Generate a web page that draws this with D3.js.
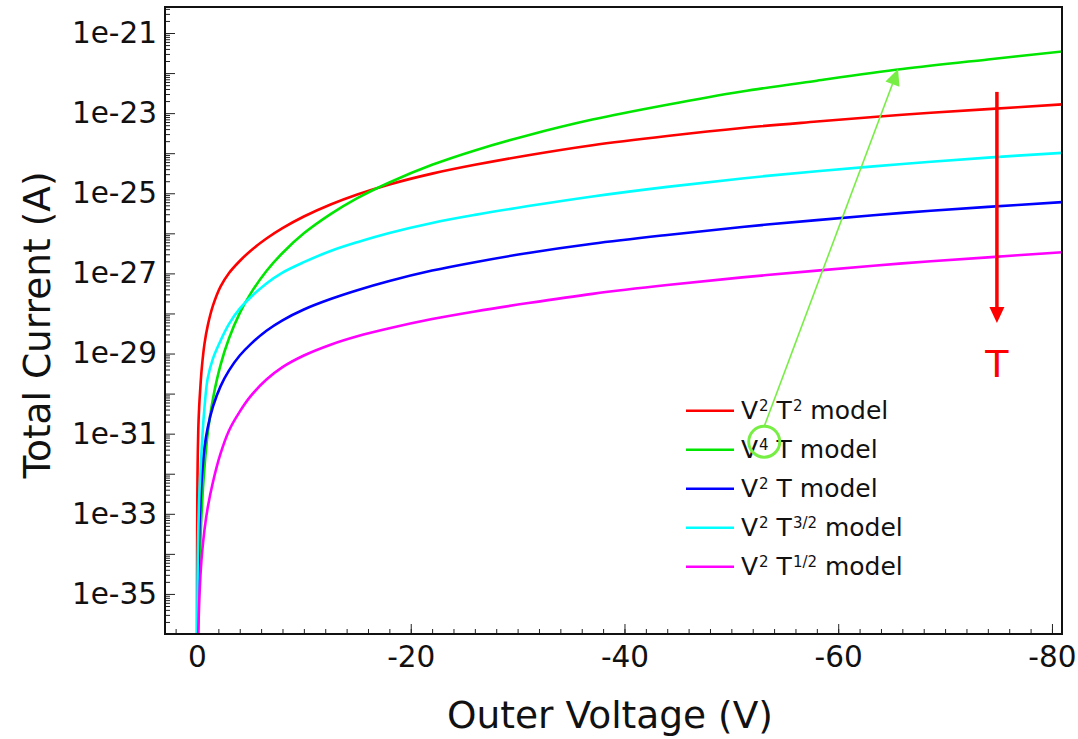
<!DOCTYPE html>
<html>
<head>
<meta charset="utf-8">
<script src="https://cdn.jsdelivr.net/npm/d3@7"></script>
<style>
  html, body { margin: 0; padding: 0; background: #fff; }
  svg { display: block; }
  text { font-family: "DejaVu Sans", sans-serif; }
</style>
</head>
<body>
<script>
// ---- data ----
const voltage = [-0.001, -0.003, -0.01, -0.03, -0.06, -0.12, -0.2, -0.3, -0.45, -0.7, -1, -1.5, -2.2, -3, -4, -5, -6.5, -8, -10, -12.5, -15, -18, -22, -26, -31, -37, -44, -51, -58, -66, -74, -81];
// log10 of total current (A)
const log10I_V2T2  = [-36.9, -35.5, -34.0, -32.63, -31.77, -30.9, -30.35, -29.9, -29.36, -28.76, -28.31, -27.8, -27.33, -26.99, -26.69, -26.44, -26.13, -25.87, -25.58, -25.28, -25.03, -24.78, -24.51, -24.29, -24.05, -23.8, -23.57, -23.37, -23.21, -23.04, -22.9, -22.78];
const log10I_V4T   = [-47.2, -44.6, -41.8, -39.2, -37.6, -35.97, -34.77, -33.82, -32.87, -31.84, -31.0, -30.12, -29.29, -28.62, -27.99, -27.51, -26.94, -26.49, -26.0, -25.52, -25.12, -24.73, -24.29, -23.93, -23.55, -23.16, -22.79, -22.46, -22.19, -21.9, -21.66, -21.46];
const log10I_V2T   = [-42.8, -40.9, -38.8, -36.86, -35.66, -34.45, -33.56, -32.85, -32.1, -31.35, -30.85, -30.32, -29.82, -29.42, -29.05, -28.77, -28.43, -28.17, -27.9, -27.64, -27.42, -27.19, -26.93, -26.72, -26.49, -26.26, -26.04, -25.84, -25.67, -25.49, -25.34, -25.22];
const log10I_V2T32 = [-40.5, -38.85, -37.07, -35.45, -34.42, -33.4, -32.65, -32.05, -31.3, -30.35, -29.62, -29.12, -28.68, -28.26, -27.88, -27.6, -27.25, -26.98, -26.72, -26.44, -26.22, -25.99, -25.74, -25.54, -25.32, -25.08, -24.84, -24.63, -24.45, -24.27, -24.11, -23.99];
const log10I_V2T12 = [-43.2, -41.5, -39.7, -38.0, -36.95, -35.95, -35.25, -34.65, -34.05, -33.4, -32.85, -32.2, -31.5, -30.92, -30.45, -30.07, -29.65, -29.34, -29.05, -28.78, -28.57, -28.37, -28.14, -27.95, -27.74, -27.51, -27.29, -27.1, -26.93, -26.75, -26.6, -26.47];

const seriesNames  = ["V2T2", "V4T", "V2T", "V2T3/2", "V2T1/2"];
const seriesColors = ["#ff0000", "#00e600", "#0000ff", "#00ffff", "#ff00ff"];
// legend labels: [base, sup, base, sup, base]
const legendLabels = [
  ["V", "2", " T", "2", " model"],
  ["V", "4", " T", "", " model"],
  ["V", "2", " T", "", " model"],
  ["V", "2", " T", "3/2", " model"],
  ["V", "2", " T", "1/2", " model"]
];
const legendOrder = [0, 1, 2, 3, 4];
const seriesValues = [log10I_V2T2, log10I_V4T, log10I_V2T, log10I_V2T32, log10I_V2T12];

const xTickValues = [0, -20, -40, -60, -80];
const yTickExponents = [-21, -23, -25, -27, -29, -31, -33, -35];
const yTickLabels = ["1e-21", "1e-23", "1e-25", "1e-27", "1e-29", "1e-31", "1e-33", "1e-35"];

const xDomain = [2.994, -80.94];
const yDomain = [1e-36, Math.pow(10, -20.351)];

// ---- layout ----
const W = 1078, H = 739;
const plot = { left: 165, top: 7, right: 1062, bottom: 634 };

const svg = d3.select("body").append("svg").attr("width", W).attr("height", H);

const x = d3.scaleLinear().domain(xDomain).range([plot.left, plot.right]);
const y = d3.scaleLog().domain(yDomain).range([plot.bottom, plot.top]);

svg.append("defs").append("clipPath").attr("id", "clip")
  .append("rect").attr("x", plot.left).attr("y", plot.top)
  .attr("width", plot.right - plot.left).attr("height", plot.bottom - plot.top);

// ---- x axis ----
const xMinor = d3.range(2, -82, -2).filter(v => v <= xDomain[0] && v >= xDomain[1]);
svg.append("g").attr("transform", `translate(0,${plot.bottom})`)
  .call(d3.axisBottom(x).tickValues(xMinor).tickSize(-5).tickFormat(""));
const gx = svg.append("g").attr("transform", `translate(0,${plot.bottom})`)
  .call(d3.axisBottom(x).tickValues(xTickValues).tickSize(-10).tickPadding(12)
    .tickFormat(d => d3.format("d")(d).replace("−", "-")));
gx.selectAll("text").attr("font-size", 29.5).attr("font-family", "DejaVu Sans").attr("fill", "#111");

// ---- y axis ----
const yMajor = d3.range(-21, -36, -1).map(e => Math.pow(10, e));
const yMinor = [];
for (let e = -36; e <= -21; e++) for (let k = 2; k <= 9; k++) {
  const v = k * Math.pow(10, e);
  if (v >= yDomain[0] && v <= yDomain[1]) yMinor.push(v);
}
svg.append("g").attr("transform", `translate(${plot.left},0)`)
  .call(d3.axisLeft(y).tickValues(yMinor).tickSize(-5).tickFormat(""));
svg.append("g").attr("transform", `translate(${plot.left},0)`)
  .call(d3.axisLeft(y).tickValues(yMajor).tickSize(-10).tickFormat(""));
const gy = svg.append("g").attr("transform", `translate(${plot.left},0)`)
  .call(d3.axisLeft(y).tickValues(yTickExponents.map(e => Math.pow(10, e))).tickSize(0).tickPadding(8)
    .tickFormat((d, i) => yTickLabels[i]));
gy.selectAll("text").attr("font-size", 29.5).attr("font-family", "DejaVu Sans").attr("fill", "#111");
svg.selectAll(".domain").remove();
svg.selectAll(".tick line").attr("stroke", "#222").attr("stroke-width", 1);

// ---- curves ----
const line = d3.line()
  .x(d => x(d[0]))
  .y(d => y(Math.pow(10, d[1])))
  .curve(d3.curveCatmullRom.alpha(0.5));

const gCurves = svg.append("g").attr("clip-path", "url(#clip)");
seriesValues.forEach((vals, i) => {
  gCurves.append("path")
    .datum(voltage.map((v, j) => [v, vals[j]]))
    .attr("fill", "none")
    .attr("stroke", seriesColors[i])
    .attr("stroke-width", 2.6)
    .attr("stroke-linejoin", "round")
    .attr("d", line);
});

// ---- frame ----
svg.append("rect").attr("x", plot.left).attr("y", plot.top)
  .attr("width", plot.right - plot.left).attr("height", plot.bottom - plot.top)
  .attr("fill", "none").attr("stroke", "#111").attr("stroke-width", 2);

// ---- axis titles ----
svg.append("text").attr("x", 610).attr("y", 728).attr("text-anchor", "middle")
  .attr("font-size", 37.5).attr("fill", "#111").text("Outer Voltage (V)");
svg.append("text").attr("transform", "translate(50,325) rotate(-90)").attr("text-anchor", "middle")
  .attr("font-size", 37.5).attr("fill", "#111").text("Total Current (A)");

// ---- legend ----
const legend = svg.append("g");
legendOrder.forEach((si, r) => {
  const ly = 410.7 + r * 39;
  legend.append("line").attr("x1", 686).attr("x2", 734).attr("y1", ly).attr("y2", ly)
    .attr("stroke", seriesColors[si]).attr("stroke-width", 2.6);
  const t = legend.append("text").attr("x", 741).attr("y", ly + 8.5).attr("font-size", 25).attr("fill", "#111");
  const parts = legendLabels[si];
  parts.forEach((p, k) => {
    if (p === "") return;
    const isSup = (k % 2 === 1);
    const ts = t.append("tspan").text(p);
    if (isSup) ts.attr("font-size", 15).attr("dy", -8).attr("dx", 1);
    else if (k > 0 && parts[k - 1] !== "") ts.attr("dy", 8);
  });
});

// ---- annotations ----
const green2 = "#77ee44";
const circleV = -53.08, circleLog = -31.2;
const tipV = -65.6, tipLog = -21.9;
const cx = x(circleV), cy = y(Math.pow(10, circleLog));
const tx = x(tipV), ty = y(Math.pow(10, tipLog));
svg.append("circle").attr("cx", cx).attr("cy", cy).attr("r", 15.5)
  .attr("fill", "none").attr("stroke", green2).attr("stroke-width", 3);
const ang = Math.atan2(ty - (cy - 15.5), tx - cx);
const headLen = 16, headW = 7.5;
const bx = tx - headLen * Math.cos(ang), by = ty - headLen * Math.sin(ang);
svg.append("line").attr("x1", cx).attr("y1", cy - 15.5).attr("x2", bx).attr("y2", by)
  .attr("stroke", green2).attr("stroke-width", 1.6);
svg.append("path").attr("fill", green2)
  .attr("d", `M${tx},${ty} L${bx + headW * Math.sin(ang)},${by - headW * Math.cos(ang)} L${bx - headW * Math.sin(ang)},${by + headW * Math.cos(ang)} Z`);

// red temperature arrow
const rV = -74.85, rTop = -22.47, rTip = -28.24, tLab = -29.24;
const rx = x(rV), ry1 = y(Math.pow(10, rTop)), ry2 = y(Math.pow(10, rTip));
svg.append("line").attr("x1", rx).attr("x2", rx).attr("y1", ry1).attr("y2", ry2 - 14)
  .attr("stroke", "#ff0000").attr("stroke-width", 3.5);
svg.append("path").attr("fill", "#ff0000")
  .attr("d", `M${rx},${ry2} L${rx - 7.5},${ry2 - 16} L${rx + 7.5},${ry2 - 16} Z`);
svg.append("text").attr("x", rx).attr("y", y(Math.pow(10, tLab)) + 14).attr("text-anchor", "middle")
  .attr("font-size", 38).attr("fill", "#ff0000").text("T");
</script>
</body>
</html>
